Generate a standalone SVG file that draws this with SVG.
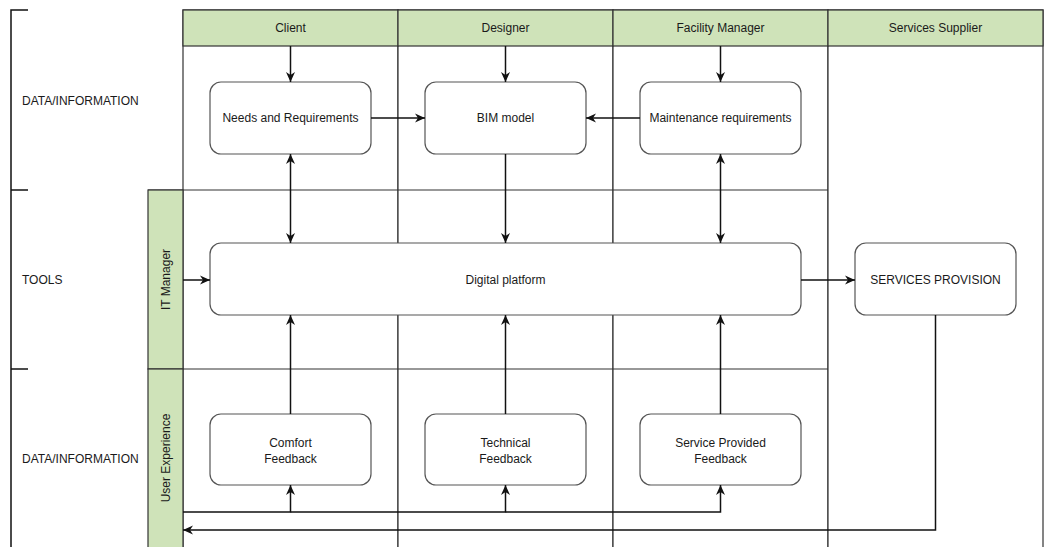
<svg xmlns="http://www.w3.org/2000/svg" width="1045" height="547" viewBox="0 0 1045 547">
<style>
  .lane { fill: #ffffff; stroke: #333333; stroke-width: 1.2; }
  .hdr { fill: #cfe3b9; stroke: #333333; stroke-width: 1.2; }
  .node { fill: #ffffff; stroke: #555555; stroke-width: 1.2; }
  .t { font-family: "Liberation Sans", Arial, sans-serif; font-size: 12px; fill: #1a1a1a; text-anchor: middle; dominant-baseline: central; }
  .tl { font-family: "Liberation Sans", Arial, sans-serif; font-size: 12px; fill: #1a1a1a; dominant-baseline: central; }
  .c { fill: none; stroke: #111111; stroke-width: 1.5; }
  .br { fill: none; stroke: #111111; stroke-width: 1.5; }
</style>
<defs>
  <marker id="arr" viewBox="0 0 10 10" refX="10" refY="5" markerWidth="10" markerHeight="10" markerUnits="userSpaceOnUse" orient="auto-start-reverse">
    <path d="M0,0.5 L10,5 L0,9.5 L3,5 Z" fill="#111111"/>
  </marker>
</defs>
<rect width="1045" height="547" fill="#ffffff"/>

<g id="bracket">
  <path class="br" d="M28,10 H11 V547"/>
  <path class="br" d="M11,190 H28"/>
  <path class="br" d="M11,369 H28"/>
  <text class="tl" x="22" y="101">DATA/INFORMATION</text>
  <text class="tl" x="22" y="280">TOOLS</text>
  <text class="tl" x="22" y="459">DATA/INFORMATION</text>
</g>

<g id="lanes">
  <rect class="lane" x="183" y="10" width="215" height="545"/>
  <rect class="lane" x="398" y="10" width="215" height="545"/>
  <rect class="lane" x="613" y="10" width="215" height="545"/>
  <rect class="lane" x="828" y="10" width="215" height="545"/>
  <path class="lane" d="M148,190 H828 M148,369 H828"/>
</g>

<g id="header-client"><rect class="hdr" x="183" y="10" width="215" height="36"/><text class="t" x="290.5" y="28">Client</text></g>
<g id="header-designer"><rect class="hdr" x="398" y="10" width="215" height="36"/><text class="t" x="505.5" y="28">Designer</text></g>
<g id="header-fm"><rect class="hdr" x="613" y="10" width="215" height="36"/><text class="t" x="720.5" y="28">Facility Manager</text></g>
<g id="header-ss"><rect class="hdr" x="828" y="10" width="215" height="36"/><text class="t" x="935.5" y="28">Services Supplier</text></g>

<g id="it-manager"><rect class="hdr" x="148" y="190" width="35" height="179"/><text class="t" transform="translate(165.5,279.5) rotate(-90)">IT Manager</text></g>
<g id="user-experience"><rect class="hdr" x="148" y="369" width="35" height="190"/><text class="t" transform="translate(165.5,458) rotate(-90)">User Experience</text></g>

<g id="needs"><rect class="node" x="210" y="82" width="161" height="72" rx="11"/><text class="t" x="290.5" y="118">Needs and Requirements</text></g>
<g id="bim"><rect class="node" x="425" y="82" width="161" height="72" rx="11"/><text class="t" x="505.5" y="118">BIM model</text></g>
<g id="maint"><rect class="node" x="640" y="82" width="161" height="72" rx="11"/><text class="t" x="720.5" y="118">Maintenance requirements</text></g>
<g id="platform"><rect class="node" x="210" y="243" width="591" height="72" rx="11"/><text class="t" x="505.5" y="280">Digital platform</text></g>
<g id="provision"><rect class="node" x="855" y="243" width="161" height="72" rx="11"/><text class="t" x="935.5" y="280">SERVICES PROVISION</text></g>
<g id="comfort"><rect class="node" x="210" y="414" width="161" height="71" rx="11"/><text class="t" x="290.5" y="443">Comfort</text><text class="t" x="290.5" y="459">Feedback</text></g>
<g id="technical"><rect class="node" x="425" y="414" width="161" height="71" rx="11"/><text class="t" x="505.5" y="443">Technical</text><text class="t" x="505.5" y="459">Feedback</text></g>
<g id="service-fb"><rect class="node" x="640" y="414" width="161" height="71" rx="11"/><text class="t" x="720.5" y="443">Service Provided</text><text class="t" x="720.5" y="459">Feedback</text></g>

<g id="connectors">
  <path class="c" d="M290.5,46 V82" marker-end="url(#arr)"/>
  <path class="c" d="M505.5,46 V82" marker-end="url(#arr)"/>
  <path class="c" d="M720.5,46 V82" marker-end="url(#arr)"/>
  <path class="c" d="M371,118 H425" marker-end="url(#arr)"/>
  <path class="c" d="M640,118 H586" marker-end="url(#arr)"/>
  <path class="c" d="M290.5,154 V243" marker-start="url(#arr)" marker-end="url(#arr)"/>
  <path class="c" d="M505.5,154 V243" marker-end="url(#arr)"/>
  <path class="c" d="M720.5,154 V243" marker-start="url(#arr)" marker-end="url(#arr)"/>
  <path class="c" d="M183,280 H210" marker-end="url(#arr)"/>
  <path class="c" d="M801,280 H855" marker-end="url(#arr)"/>
  <path class="c" d="M290.5,414 V315" marker-end="url(#arr)"/>
  <path class="c" d="M505.5,414 V315" marker-end="url(#arr)"/>
  <path class="c" d="M720.5,414 V315" marker-end="url(#arr)"/>
  <path class="c" d="M183,512 H290.5 V485" marker-end="url(#arr)"/>
  <path class="c" d="M290.5,512 H505.5 V485" marker-end="url(#arr)"/>
  <path class="c" d="M505.5,512 H720.5 V485" marker-end="url(#arr)"/>
  <path class="c" d="M935.5,315 V530 H183" marker-end="url(#arr)"/>
</g>
</svg>
